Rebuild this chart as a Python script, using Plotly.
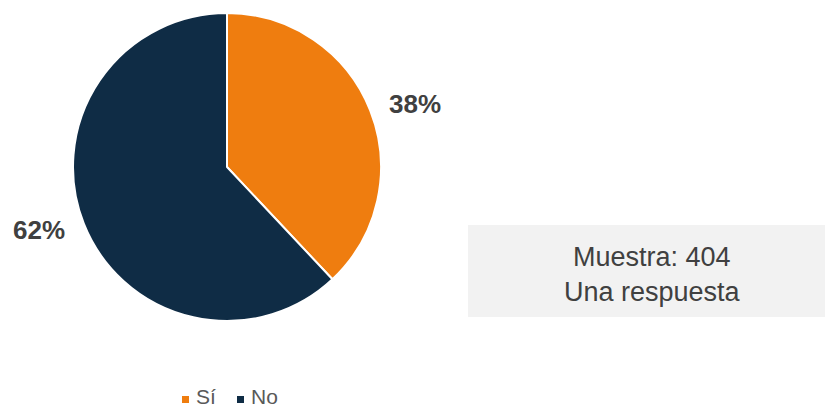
import math
import plotly.graph_objects as go

# Survey answers
labels = ["Sí", "No"]
values = [38, 62]
colors = ["#EF7D0F", "#0F2C45"]

box_lines = ["Muestra: 404", "Una respuesta"]

W, H = 829, 410
FONT = "Liberation Sans, Arial, sans-serif"

# Pie geometry in pixels
CX, CY, R = 227, 167, 154

fig = go.Figure(
    go.Pie(
        labels=labels,
        values=values,
        sort=False,
        direction="clockwise",
        rotation=0,
        marker=dict(colors=colors, line=dict(color="white", width=2)),
        textinfo="none",
        domain=dict(x=[(CX - R) / W, (CX + R) / W], y=[1 - (CY + R) / H, 1 - (CY - R) / H]),
        showlegend=False,
        hoverinfo="label+percent",
    )
)

# Percentage labels just outside each slice, at its mid-angle
total = sum(values)
start = 0.0
for v in values:
    share = v / total
    mid = (start + share / 2) * 2 * math.pi
    start += share
    lr = R + 18
    px = CX + lr * math.sin(mid)
    py = CY - lr * math.cos(mid)
    fig.add_annotation(
        xref="paper", yref="paper", x=px / W, y=1 - py / H,
        text=f"{share:.0%}", showarrow=False,
        xanchor="left" if math.sin(mid) >= 0 else "right", yanchor="middle",
        font=dict(family=FONT, size=26, color="#404040", weight="bold"),
    )

# Sample info panel
fig.add_shape(
    type="rect", xref="paper", yref="paper",
    x0=468 / W, x1=825 / W, y0=1 - 317 / H, y1=1 - 225 / H,
    fillcolor="#F2F2F2", line=dict(width=0), layer="below",
)
fig.add_annotation(
    xref="paper", yref="paper", x=652 / W, y=1 - 274 / H,
    text="<br>".join(box_lines), showarrow=False,
    font=dict(family=FONT, size=27, color="#404040"),
    xanchor="center", yanchor="middle", align="center",
)

# Legend row under the pie
legend_x = [182, 237]
for lab, col, lx in zip(labels, colors, legend_x):
    fig.add_shape(
        type="rect", xref="paper", yref="paper",
        x0=lx / W, x1=(lx + 7) / W, y0=1 - 403 / H, y1=1 - 396 / H,
        fillcolor=col, line=dict(width=0),
    )
    fig.add_annotation(
        xref="paper", yref="paper", x=(lx + 13) / W, y=1 - 396 / H,
        text=lab, showarrow=False, xanchor="left", yanchor="middle",
        borderpad=0,
        font=dict(family=FONT, size=21, color="#595959"),
    )

fig.update_layout(
    width=W, height=H,
    margin=dict(l=0, r=0, t=0, b=0),
    paper_bgcolor="white", plot_bgcolor="white",
)

fig.write_html("out.html")
